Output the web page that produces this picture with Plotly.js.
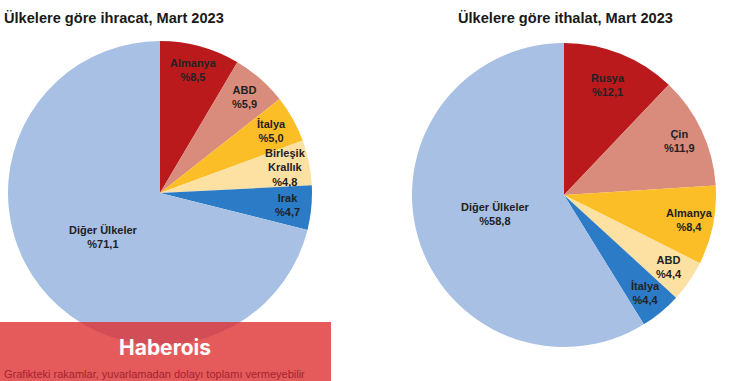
<!DOCTYPE html>
<html>
<head>
<meta charset="utf-8">
<script src="https://cdn.plot.ly/plotly-3.0.1.min.js"></script>
<style>html,body{margin:0;padding:0;background:#fff;}#chart{width:750px;height:381px;}</style>
</head>
<body>
<div id="chart"></div>
<script>
// ---- data ----
const exportCountries = ['Almanya', 'ABD', 'İtalya', 'Birleşik<br>Krallık', 'Irak', 'Diğer Ülkeler'];
const exportShares = [8.5, 5.9, 5.0, 4.8, 4.7, 71.1];
const importCountries = ['Rusya', 'Çin', 'Almanya', 'ABD', 'İtalya', 'Diğer Ülkeler'];
const importShares = [12.1, 11.9, 8.4, 4.4, 4.4, 58.8];
const exportTitle = 'Ülkelere göre ihracat, Mart 2023';
const importTitle = 'Ülkelere göre ithalat, Mart 2023';
const footnote = 'Grafikteki rakamlar, yuvarlamadan dolayı toplamı vermeyebilir';
const watermark = 'Haberois';

// ---- style ----
const W = 750, H = 381;
const sliceColors = ['#BB1A1D', '#D98B7C', '#FBBE27', '#FDE1A2', '#2C7BC6', '#A7C0E3'];
const leftDomain = {x: [8 / W, 312 / W], y: [1 - 345 / H, 1 - 41 / H]};
const rightDomain = {x: [412 / W, 716 / W], y: [1 - 347 / H, 1 - 43 / H]};

function fmt(v) { return '%' + v.toFixed(1).replace('.', ','); }

function pieTrace(labels, values, domain) {
  return {
    type: 'pie', labels: labels, values: values, domain: domain,
    sort: false, direction: 'clockwise', rotation: 0,
    marker: {colors: sliceColors, line: {width: 0}},
    textinfo: 'none', hoverinfo: 'none', showlegend: false
  };
}

function labelAnnotations(labels, values, domain) {
  const x0 = domain.x[0] * W, x1 = domain.x[1] * W;
  const y0 = (1 - domain.y[1]) * H, y1 = (1 - domain.y[0]) * H;
  const cx = (x0 + x1) / 2, cy = (y0 + y1) / 2;
  const r = Math.min(x1 - x0, y1 - y0) / 2;
  const total = values.reduce((a, b) => a + b, 0);
  let cum = 0;
  return labels.map((lab, i) => {
    const mid = (cum + values[i] / 2) / total * 2 * Math.PI;
    cum += values[i];
    const f = values[i] > 40 ? 0.47 : (values[i] > 12 ? 0.78 : 0.84);
    const px = cx + f * r * Math.sin(mid);
    const py = cy - f * r * Math.cos(mid);
    return {
      x: px / W, y: 1 - py / H, xref: 'paper', yref: 'paper',
      text: '<b>' + lab + '<br>' + fmt(values[i]) + '</b>',
      showarrow: false, xanchor: 'center', yanchor: 'middle',
      font: {family: 'Liberation Sans, Arial, sans-serif', size: 11, color: '#222222'},
      align: 'center'
    };
  });
}

const annotations = [].concat(
  labelAnnotations(exportCountries, exportShares, leftDomain),
  labelAnnotations(importCountries, importShares, rightDomain),
  [
    {x: 2 / W, y: 1 - 18 / H, xref: 'paper', yref: 'paper', xanchor: 'left', yanchor: 'middle',
     text: '<b>' + exportTitle + '</b>', showarrow: false,
     font: {family: 'Liberation Sans, Arial, sans-serif', size: 14.6, color: '#1a1a1a'}},
    {x: 565 / W, y: 1 - 18 / H, xref: 'paper', yref: 'paper', xanchor: 'center', yanchor: 'middle',
     text: '<b>' + importTitle + '</b>', showarrow: false,
     font: {family: 'Liberation Sans, Arial, sans-serif', size: 14.6, color: '#1a1a1a'}},
    {x: 165 / W, y: 1 - 347 / H, xref: 'paper', yref: 'paper', xanchor: 'center', yanchor: 'middle',
     text: '<b>' + watermark + '</b>', showarrow: false,
     font: {family: 'Inter, Roboto, sans-serif', size: 21, color: '#ffffff'}},
    {x: 2 / W, y: 1 - 374 / H, xref: 'paper', yref: 'paper', xanchor: 'left', yanchor: 'middle',
     text: footnote, showarrow: false,
     font: {family: 'Liberation Sans, Arial, sans-serif', size: 11, color: '#A3232F'}}
  ]
);

const layout = {
  width: W, height: H,
  margin: {l: 0, r: 0, t: 0, b: 0},
  paper_bgcolor: '#ffffff', plot_bgcolor: '#ffffff',
  showlegend: false,
  annotations: annotations,
  shapes: [{
    type: 'rect', xref: 'paper', yref: 'paper', layer: 'above',
    x0: 0, x1: 331 / W, y0: 0, y1: 1 - 322 / H,
    fillcolor: 'rgba(222,45,45,0.78)', line: {width: 0}
  }]
};

Plotly.newPlot('chart', [
  pieTrace(exportCountries, exportShares, leftDomain),
  pieTrace(importCountries, importShares, rightDomain)
], layout, {staticPlot: true, displayModeBar: false});
</script>
</body>
</html>
